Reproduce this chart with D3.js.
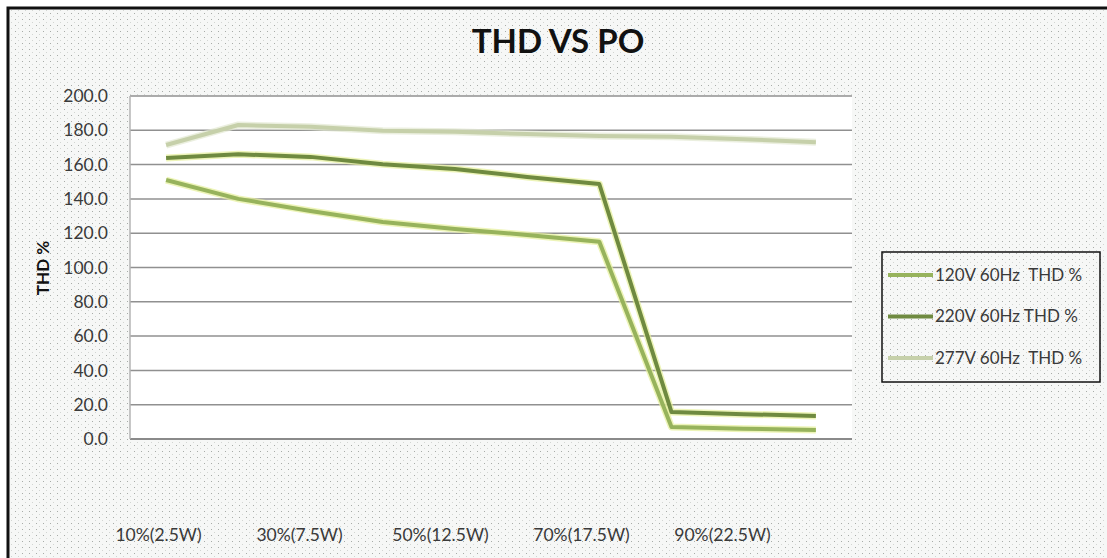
<!DOCTYPE html>
<html>
<head>
<meta charset="utf-8">
<script src="https://cdn.jsdelivr.net/npm/d3@7"></script>
<style>
  html, body { margin: 0; padding: 0; background: #fff; overflow: hidden; }
  svg { display: block; }
</style>
</head>
<body>
<div id="chart"></div>
<script>
// categories on the x axis (10 load points)
const categories = ["10%(2.5W)", "20%(5W)", "30%(7.5W)", "40%(10W)", "50%(12.5W)",
                    "60%(15W)", "70%(17.5W)", "80%(20W)", "90%(22.5W)", "100%(25W)"];
// only every other label is printed under the chart
const tickLabels = ["10%(2.5W)", "30%(7.5W)", "50%(12.5W)", "70%(17.5W)", "90%(22.5W)"];
const yTicks = [0, 20, 40, 60, 80, 100, 120, 140, 160, 180, 200];

const seriesNames = ["120V 60Hz  THD %", "220V 60Hz THD %", "277V 60Hz  THD %"];
const thd120 = [151.0, 140.0, 133.0, 126.5, 122.5, 119.0, 115.0, 7.0, 6.0, 5.3];
const thd220 = [163.8, 166.0, 164.5, 160.2, 157.5, 152.8, 148.7, 15.7, 14.5, 13.4];
const thd277 = [171.4, 183.1, 182.0, 179.8, 179.2, 177.8, 176.7, 176.3, 174.8, 173.0];

const colors = ["#97b35c", "#6f8a40", "#c6d0aa"];

const width = 1107, height = 558;
const plot = {left: 130, right: 852, top: 96, bottom: 439};
const font = "Lato, 'Open Sans', sans-serif";

const svg = d3.select("#chart").append("svg")
  .attr("width", width)
  .attr("height", height);

// dotted background fill
const defs = svg.append("defs");
const pat = defs.append("pattern")
  .attr("id", "dots")
  .attr("width", 7).attr("height", 6)
  .attr("patternUnits", "userSpaceOnUse");
pat.append("rect").attr("width", 7).attr("height", 6).attr("fill", "#f6f7f6");
pat.append("rect").attr("x", 1).attr("y", 1).attr("width", 1).attr("height", 1).attr("fill", "#a8aca8");
pat.append("rect").attr("x", 4).attr("y", 4).attr("width", 1).attr("height", 1).attr("fill", "#d2d5d2");

svg.append("rect")
  .attr("x", 0).attr("y", 0).attr("width", width).attr("height", height)
  .attr("fill", "#fff");
svg.append("rect")
  .attr("x", 8).attr("y", 8).attr("width", width + 20).attr("height", height + 20)
  .attr("fill", "url(#dots)")
  .attr("stroke", "#111").attr("stroke-width", 3);

// scales
const x = d3.scalePoint()
  .domain(categories)
  .range([plot.left, plot.right])
  .padding(0.5);
const y = d3.scaleLinear()
  .domain([0, 200])
  .range([plot.bottom, plot.top]);

// plot area
svg.append("rect")
  .attr("x", plot.left).attr("y", plot.top)
  .attr("width", plot.right - plot.left).attr("height", plot.bottom - plot.top)
  .attr("fill", "#fff");

svg.append("g")
  .selectAll("line")
  .data(yTicks)
  .join("line")
  .attr("x1", plot.left).attr("x2", plot.right)
  .attr("y1", d => y(d)).attr("y2", d => y(d))
  .attr("stroke", d => d === 0 ? "#8a8a8a" : "#909090")
  .attr("stroke-width", d => d === 0 ? 2 : 1.5);

svg.append("line")
  .attr("x1", plot.left).attr("x2", plot.left)
  .attr("y1", plot.top).attr("y2", plot.bottom)
  .attr("stroke", "#b5b5b5").attr("stroke-width", 1.5);

// y axis labels
const yAxis = d3.axisLeft(y)
  .tickValues(yTicks)
  .tickFormat(d3.format(".1f"))
  .tickSize(0)
  .tickPadding(22);
const yg = svg.append("g")
  .attr("transform", `translate(${plot.left},0)`)
  .call(yAxis);
yg.select(".domain").remove();
yg.selectAll("text")
  .attr("font-family", font)
  .attr("font-size", 17.5)
  .attr("fill", "#3a3a3a");

svg.append("text")
  .attr("transform", `translate(49,268) rotate(-90)`)
  .attr("text-anchor", "middle")
  .attr("font-family", font)
  .attr("font-weight", "bold")
  .attr("font-size", 17)
  .attr("fill", "#111")
  .text("THD %");

// x labels, printed far below the axis
const xl = d3.scalePoint()
  .domain(tickLabels)
  .range([158, 722]);
const xg = svg.append("g")
  .attr("transform", "translate(0,526)")
  .call(d3.axisBottom(xl).tickSize(0).tickPadding(0));
xg.select(".domain").remove();
xg.selectAll("text")
  .attr("dy", "0.85em")
  .attr("font-family", font)
  .attr("font-size", 17.5)
  .attr("fill", "#3a3a3a");

// lines
const series = [thd120, thd220, thd277];
const line = d3.line()
  .x((d, i) => x(categories[i]))
  .y(d => y(d));

const lines = svg.append("g");
lines.selectAll("path.glow")
  .data(series)
  .join("path")
  .attr("class", "glow")
  .attr("d", line)
  .attr("fill", "none")
  .attr("stroke", (d, i) => i === 2 ? "#e3e8d2" : "#e6f09a")
  .attr("stroke-opacity", 0.7)
  .attr("stroke-width", 7)
  .attr("stroke-linejoin", "round");
lines.selectAll("path.ser")
  .data(series)
  .join("path")
  .attr("class", "ser")
  .attr("d", line)
  .attr("fill", "none")
  .attr("stroke", (d, i) => colors[i])
  .attr("stroke-width", 4)
  .attr("stroke-linejoin", "round");

// title
svg.append("text")
  .attr("x", 558).attr("y", 53)
  .attr("text-anchor", "middle")
  .attr("font-family", font)
  .attr("font-weight", "bold")
  .attr("font-size", 33)
  .attr("fill", "#111")
  .text("THD VS PO");

// legend
const lg = svg.append("g");
lg.append("rect")
  .attr("x", 882).attr("y", 252)
  .attr("width", 218).attr("height", 130)
  .attr("fill", "none")
  .attr("stroke", "#111").attr("stroke-width", 1.5);
const items = lg.selectAll("g.item")
  .data(seriesNames)
  .join("g")
  .attr("class", "item")
  .attr("transform", (d, i) => `translate(888,${275 + i * 41.5})`);
items.append("line")
  .attr("x1", 0).attr("x2", 45)
  .attr("stroke", (d, i) => colors[i])
  .attr("stroke-width", 4);
items.append("text")
  .attr("x", 47).attr("dy", "0.35em")
  .attr("font-family", font)
  .attr("font-size", 17)
  .attr("fill", "#3a3a3a")
  .style("white-space", "pre")
  .text(d => d);
</script>
</body>
</html>
